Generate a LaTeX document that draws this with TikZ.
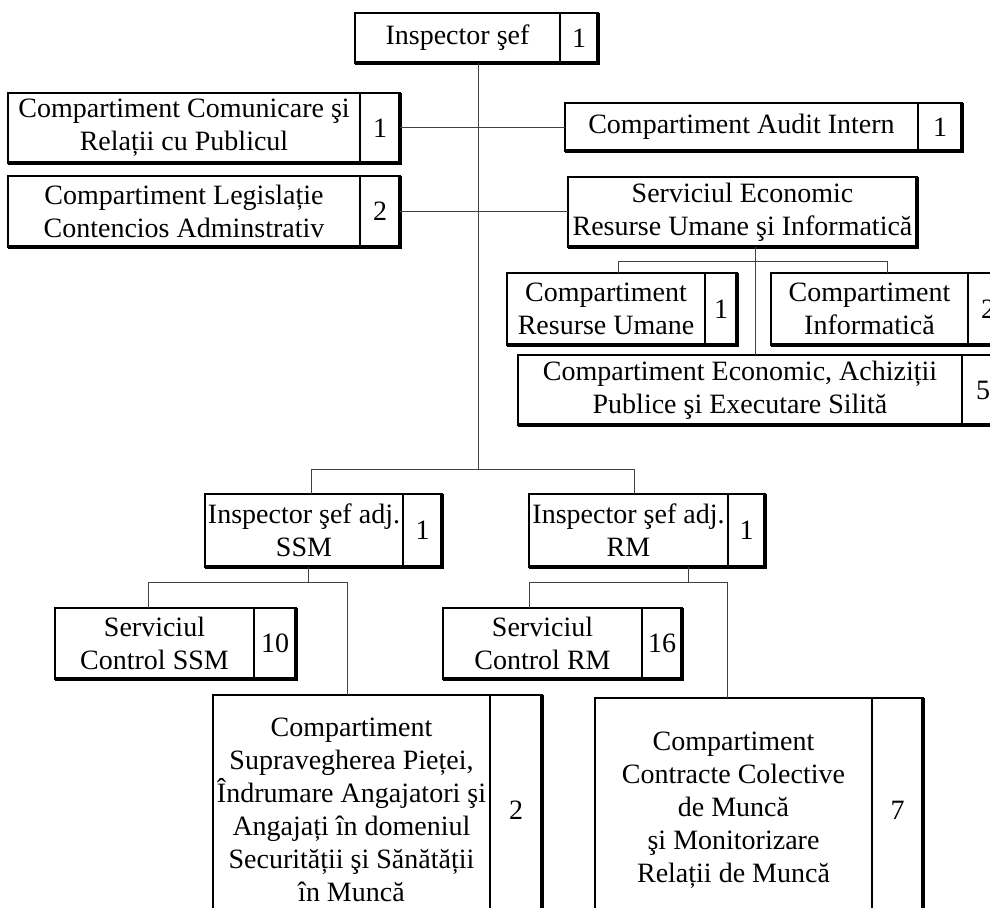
\documentclass[tikz,border=0pt]{standalone}
\usepackage{fontspec}
\setmainfont{Liberation Serif}
\usepackage{tikz}
\usetikzlibrary{calc,positioning}
\newcommand{\orgfont}{\fontsize{14}{16.5}\selectfont}
\tikzset{
  box/.style={draw, line width=0.8pt, inner sep=0pt, outer sep=0pt, align=center, font=\orgfont},
  unit/.style={box, anchor=north west},
  link/.style={draw=black!75, line width=0.5pt},
  rim/.style={draw, line width=1.6pt},
}

\begin{document}
\begin{tikzpicture}[x=0.5pt, y=-0.5pt]
  \useasboundingbox (0,0) rectangle (990,908);
  \clip (0,0) rectangle (990,908);

  \node[unit, minimum width=102.5pt, minimum height=25pt] (chief) at (355,13) {Inspector şef};
  \node[box, minimum width=19pt, minimum height=25pt, right=0pt of chief] (chiefn) {1};

  \node[unit, minimum width=176pt, minimum height=35pt] (comm) at (8,93) {Compartiment Comunicare şi\\Relații cu Publicul};
  \node[box, minimum width=20pt, minimum height=35pt, right=0pt of comm] (commn) {1};
  \node[unit, minimum width=176pt, minimum height=35.5pt] (legis) at (8,176) {Compartiment Legislație\\Contencios Adminstrativ};
  \node[box, minimum width=20pt, minimum height=35.5pt, right=0pt of legis] (legisn) {2};

  \node[unit, minimum width=176.5pt, minimum height=24pt] (audit) at (565,103) {Compartiment Audit Intern};
  \node[box, minimum width=22pt, minimum height=24pt, right=0pt of audit] (auditn) {1};
  \node[unit, minimum width=174.5pt, minimum height=35pt] (seri) at (568,177) {Serviciul Economic\\Resurse Umane şi Informatică};

  \node[unit, minimum width=99pt, minimum height=36pt] (hr) at (507,273) {Compartiment\\Resurse Umane};
  \node[box, minimum width=16pt, minimum height=36pt, right=0pt of hr] (hrn) {1};
  \node[unit, minimum width=98.5pt, minimum height=36pt] (it) at (771,273) {Compartiment\\Informatică};
  \node[box, minimum width=20pt, minimum height=36pt, right=0pt of it] (itn) {2};
  \node[unit, minimum width=222pt, minimum height=35pt] (econ) at (518,355) {Compartiment Economic, Achiziții\\Publice şi Executare Silită};
  \node[box, minimum width=21pt, minimum height=35pt, right=0pt of econ] (econn) {5};

  \node[unit, minimum width=99pt, minimum height=36.5pt] (adjssm) at (205,494) {Inspector şef adj.\\SSM};
  \node[box, minimum width=19.5pt, minimum height=36.5pt, right=0pt of adjssm] (adjssmn) {1};
  \node[unit, minimum width=99.5pt, minimum height=36.5pt] (adjrm) at (529,494) {Inspector şef adj.\\RM};
  \node[box, minimum width=18.5pt, minimum height=36.5pt, right=0pt of adjrm] (adjrmn) {1};

  \node[unit, minimum width=99.5pt, minimum height=35.5pt] (ctrlssm) at (55,608) {Serviciul\\Control SSM};
  \node[box, minimum width=21pt, minimum height=35.5pt, right=0pt of ctrlssm] (ctrlssmn) {10};
  \node[unit, minimum width=99.5pt, minimum height=35.5pt] (ctrlrm) at (443,608) {Serviciul\\Control RM};
  \node[box, minimum width=20pt, minimum height=35.5pt, right=0pt of ctrlrm] (ctrlrmn) {16};

  \node[unit, minimum width=138.5pt, minimum height=115pt] (market) at (213,695) {Compartiment\\Supravegherea Pieței,\\Îndrumare Angajatori şi\\Angajați în domeniul\\Securității şi Sănătății\\în Muncă};
  \node[box, minimum width=26pt, minimum height=115pt, right=0pt of market] (marketn) {2};
  \node[unit, minimum width=138.5pt, minimum height=112pt] (collect) at (595,698) {Compartiment\\Contracte Colective\\de Muncă\\şi Monitorizare\\Relații de Muncă};
  \node[box, minimum width=25.5pt, minimum height=112pt, right=0pt of collect] (collectn) {7};

  \foreach \a/\b in {chief/chiefn, comm/commn, legis/legisn, audit/auditn, seri/seri, hr/hrn, it/itn, econ/econn,
                     adjssm/adjssmn, adjrm/adjrmn, ctrlssm/ctrlssmn, ctrlrm/ctrlrmn, market/marketn, collect/collectn}
    \draw[rim] (\a.south west) -- (\b.south east) -- (\b.north east);

  \coordinate (j0) at (478,470);
  \coordinate (j1) at (755,262);
  \coordinate (j1a) at (618,262);
  \coordinate (j1b) at (887,262);
  \coordinate (j2a) at (311,470);
  \coordinate (j2b) at (634,470);
  \coordinate (j3) at (308,582);
  \coordinate (j3a) at (148,582);
  \coordinate (j3b) at (347,582);
  \coordinate (j4) at (688,582);
  \coordinate (j4a) at (529,582);
  \coordinate (j4b) at (727,582);

  \draw[link] (chief.south -| j0) -- (j0);
  \draw[link] (commn.east) -- (commn.east -| audit.west);
  \draw[link] (legisn.east) -- (legisn.east -| seri.west);
  \draw[link] (seri.south -| j1) -- (econ.north -| j1);
  \draw[link] (hr.north -| j1a) |- (j1b) -- (it.north -| j1b);
  \draw[link] (adjssm.north -| j2a) |- (j2b) -- (adjrm.north -| j2b);
  \draw[link] (adjssm.south -| j3) -- (j3);
  \draw[link] (ctrlssm.north -| j3a) |- (j3b) -- (market.north -| j3b);
  \draw[link] (adjrm.south -| j4) -- (j4);
  \draw[link] (ctrlrm.north -| j4a) |- (j4b) -- (collect.north -| j4b);
\end{tikzpicture}
\end{document}
